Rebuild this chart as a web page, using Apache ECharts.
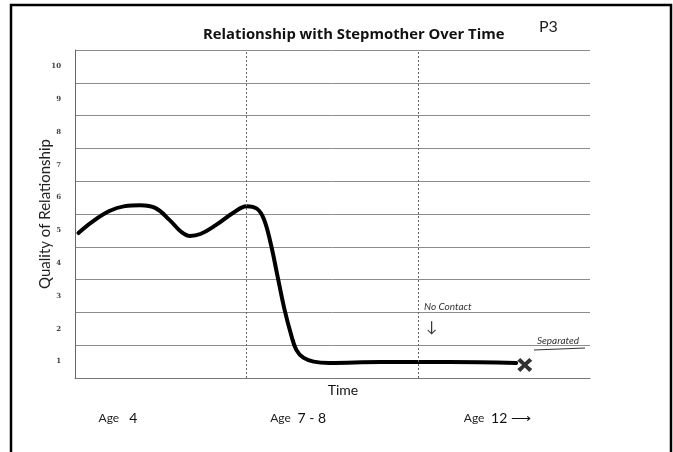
<!DOCTYPE html>
<html>
<head>
<meta charset="utf-8">
<script src="https://cdn.jsdelivr.net/npm/echarts@6/dist/echarts.min.js"></script>
<style>
  html, body { margin: 0; padding: 0; background: #fff; }
  #chart { width: 673px; height: 452px; }
</style>
</head>
<body>
<div id="chart"></div>
<script>
// hand-drawn curve (x: 0..3 time thirds, y: 0..10 bands)
const curveX = [0.02, 0.1, 0.2, 0.29, 0.38, 0.47, 0.55, 0.62, 0.67, 0.73, 0.82, 0.92, 1.0, 1.06, 1.1, 1.14, 1.18, 1.22, 1.26, 1.29, 1.33, 1.39, 1.48, 1.78, 2.18, 2.57];
const curveY = [4.42, 4.76, 5.09, 5.24, 5.27, 5.18, 4.82, 4.45, 4.33, 4.39, 4.66, 5.03, 5.24, 5.16, 4.85, 4.1, 3.1, 2.1, 1.3, 0.85, 0.62, 0.5, 0.46, 0.49, 0.49, 0.46];
const endMark = [2.62, 0.4];
const scoreLabels = ['1', '2', '3', '4', '5', '6', '7', '8', '9', '10'];
const ageTicks = [0.25, 1.3, 2.46];
const ageLabels = ['{a|Age}   {b|4}', '{a|Age}  {b|7 - 8}', '{a|Age}  {b|12 ⟶}'];
const phaseLines = [1, 2];

const chart = echarts.init(document.getElementById('chart'));
const sans = 'Lato, "Open Sans", sans-serif';

chart.setOption({
  backgroundColor: '#fff',
  animation: false,
  title: {
    text: 'Relationship with Stepmother Over Time',
    left: 198,
    top: 22,
    textStyle: { fontFamily: '"Open Sans", sans-serif', fontSize: 14.8, fontWeight: 'bold', color: '#111' }
  },
  grid: { left: 75, right: 83, top: 50, bottom: 74 },
  xAxis: {
    type: 'value',
    min: 0,
    max: 3,
    axisLine: { show: true, lineStyle: { color: '#777', width: 1 } },
    axisTick: { show: false },
    splitLine: { show: false },
    axisLabel: {
      customValues: ageTicks,
      margin: 33,
      formatter: function (v) {
        const i = ageTicks.indexOf(v);
        return i >= 0 ? ageLabels[i] : '';
      },
      rich: {
        a: { fontFamily: sans, fontSize: 12, color: '#222' },
        b: { fontFamily: sans, fontSize: 14, color: '#111' }
      }
    }
  },
  yAxis: [
    {
      type: 'value',
      min: 0,
      max: 10,
      interval: 1,
      axisLine: { show: true, lineStyle: { color: '#666', width: 1 } },
      axisTick: { show: false },
      axisLabel: { show: false },
      splitLine: { show: true, lineStyle: { color: '#8c8c8c', width: 1 } }
    },
    {
      type: 'category',
      position: 'left',
      data: scoreLabels,
      boundaryGap: true,
      axisLine: { show: false },
      axisTick: { show: false },
      splitLine: { show: false },
      axisLabel: {
        margin: 14,
        fontFamily: '"DejaVu Serif", serif',
        fontSize: 7,
        fontWeight: 'bold',
        color: '#444'
      }
    }
  ],
  series: [
    {
      type: 'line',
      data: curveX.map((x, i) => [x, curveY[i]]),
      smooth: 0.4,
      showSymbol: false,
      lineStyle: { color: '#000', width: 4, cap: 'round' },
      markLine: {
        silent: true,
        symbol: 'none',
        label: { show: false },
        lineStyle: { color: '#666', type: [2, 2], width: 1 },
        data: phaseLines.map(v => ({ xAxis: v }))
      }
    },
    {
      type: 'scatter',
      data: [endMark],
      symbol: 'path://M0,2L2,0L5,3.2L8,0L10,2L6.8,5L10,8L8,10L5,6.8L2,10L0,8L3.2,5Z',
      symbolSize: [15, 14],
      itemStyle: { color: '#000' }
    }
  ],
  graphic: [
    {
      type: 'polyline',
      shape: { points: [[11, 452], [11, 5], [671, 5], [671, 452]] },
      style: { stroke: '#000', lineWidth: 2.5, fill: null }
    },
    {
      type: 'text', x: 45, y: 214, rotation: Math.PI / 2,
      style: { text: 'Quality of Relationship', font: '15px ' + sans, fill: '#222', align: 'center', verticalAlign: 'middle' }
    },
    {
      type: 'text', x: 343, y: 390,
      style: { text: 'Time', font: '14px ' + sans, fill: '#111', align: 'center', verticalAlign: 'middle' }
    },
    {
      type: 'text', left: 539, top: 19,
      style: { text: 'P3', font: '16px ' + sans, fill: '#222' }
    },
    {
      type: 'text', left: 424, top: 302,
      style: { text: 'No Contact', font: 'italic 10px ' + sans, fill: '#333' }
    },
    {
      type: 'text', left: 426, top: 320,
      style: { text: '↓', font: '15px ' + sans, fill: '#333' }
    },
    {
      type: 'text', left: 537, top: 336,
      style: { text: 'Separated', font: 'italic 10px ' + sans, fill: '#333' }
    },
    {
      type: 'line',
      shape: { x1: 534, y1: 350, x2: 585, y2: 348 },
      style: { stroke: '#333', lineWidth: 1 }
    }
  ]
});
</script>
</body>
</html>
